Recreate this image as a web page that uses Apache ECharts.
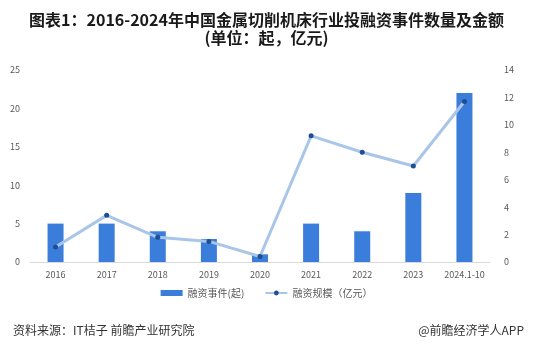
<!DOCTYPE html>
<html lang="zh">
<head>
<meta charset="UTF-8">
<title>金属切削机床行业投融资</title>
<script src="https://cdn.jsdelivr.net/npm/echarts@6/dist/echarts.min.js"></script>
<style>
  html, body { margin: 0; padding: 0; background: #fff; }
  #main { width: 533px; height: 354px; }
</style>
</head>
<body>
<div id="main"></div>
<script>
var years = ['2016', '2017', '2018', '2019', '2020', '2021', '2022', '2023', '2024.1-10'];
var eventCount = [5, 5, 4, 3, 1, 5, 4, 9, 22];
var amount = [1.1, 3.4, 1.8, 1.5, 0.4, 9.2, 8.0, 7.0, 11.7];

var font = '"Noto Sans CJK SC", "Noto Sans", sans-serif';
var chart = echarts.init(document.getElementById('main'));

chart.setOption({
  animation: false,
  textStyle: { fontFamily: font },
  title: [
    {
      text: '图表1：2016-2024年中国金属切削机床行业投融资事件数量及金额\n(单位：起，亿元)',
      left: 'center',
      top: 6,
      textStyle: { fontSize: 16, fontWeight: 'bold', color: '#1a1a1a', lineHeight: 18, fontFamily: font }
    },
    {
      text: '资料来源：IT桔子 前瞻产业研究院',
      left: 8,
      top: 319,
      textStyle: { fontSize: 12, fontWeight: 'normal', color: '#333', fontFamily: font }
    },
    {
      text: '@前瞻经济学人APP',
      right: 4,
      top: 319,
      textStyle: { fontSize: 12, fontWeight: 'normal', color: '#333', fontFamily: font }
    }
  ],
  legend: {
    bottom: 51,
    left: 'center',
    itemWidth: 22,
    itemHeight: 6,
    itemGap: 20,
    textStyle: { fontSize: 10, color: '#595959' },
    data: [
      { name: '融资事件(起)', icon: 'rect' },
      { name: '融资规模（亿元）' }
    ]
  },
  grid: { left: 30, right: 43, top: 70, bottom: 92 },
  xAxis: {
    type: 'category',
    data: years,
    axisLine: { lineStyle: { color: '#d9d9d9' } },
    axisTick: { show: false },
    axisLabel: { fontSize: 9, color: '#595959', margin: 8, interval: 0 }
  },
  yAxis: [
    {
      type: 'value',
      min: 0, max: 25, interval: 5,
      splitLine: { show: false },
      axisLine: { show: false },
      axisLabel: { fontSize: 9, color: '#595959', margin: 10 }
    },
    {
      type: 'value',
      min: 0, max: 14, interval: 2,
      splitLine: { show: false },
      axisLine: { show: false },
      axisLabel: { fontSize: 9, color: '#595959', margin: 14 }
    }
  ],
  series: [
    {
      name: '融资事件(起)',
      type: 'bar',
      data: eventCount,
      barWidth: 16,
      itemStyle: { color: '#3b7ddb' }
    },
    {
      name: '融资规模（亿元）',
      type: 'line',
      yAxisIndex: 1,
      data: amount,
      symbol: 'circle',
      symbolSize: 5,
      lineStyle: { color: '#a9c5e8', width: 3 },
      itemStyle: { color: '#1d4f91', borderWidth: 0 }
    }
  ]
});
</script>
</body>
</html>
